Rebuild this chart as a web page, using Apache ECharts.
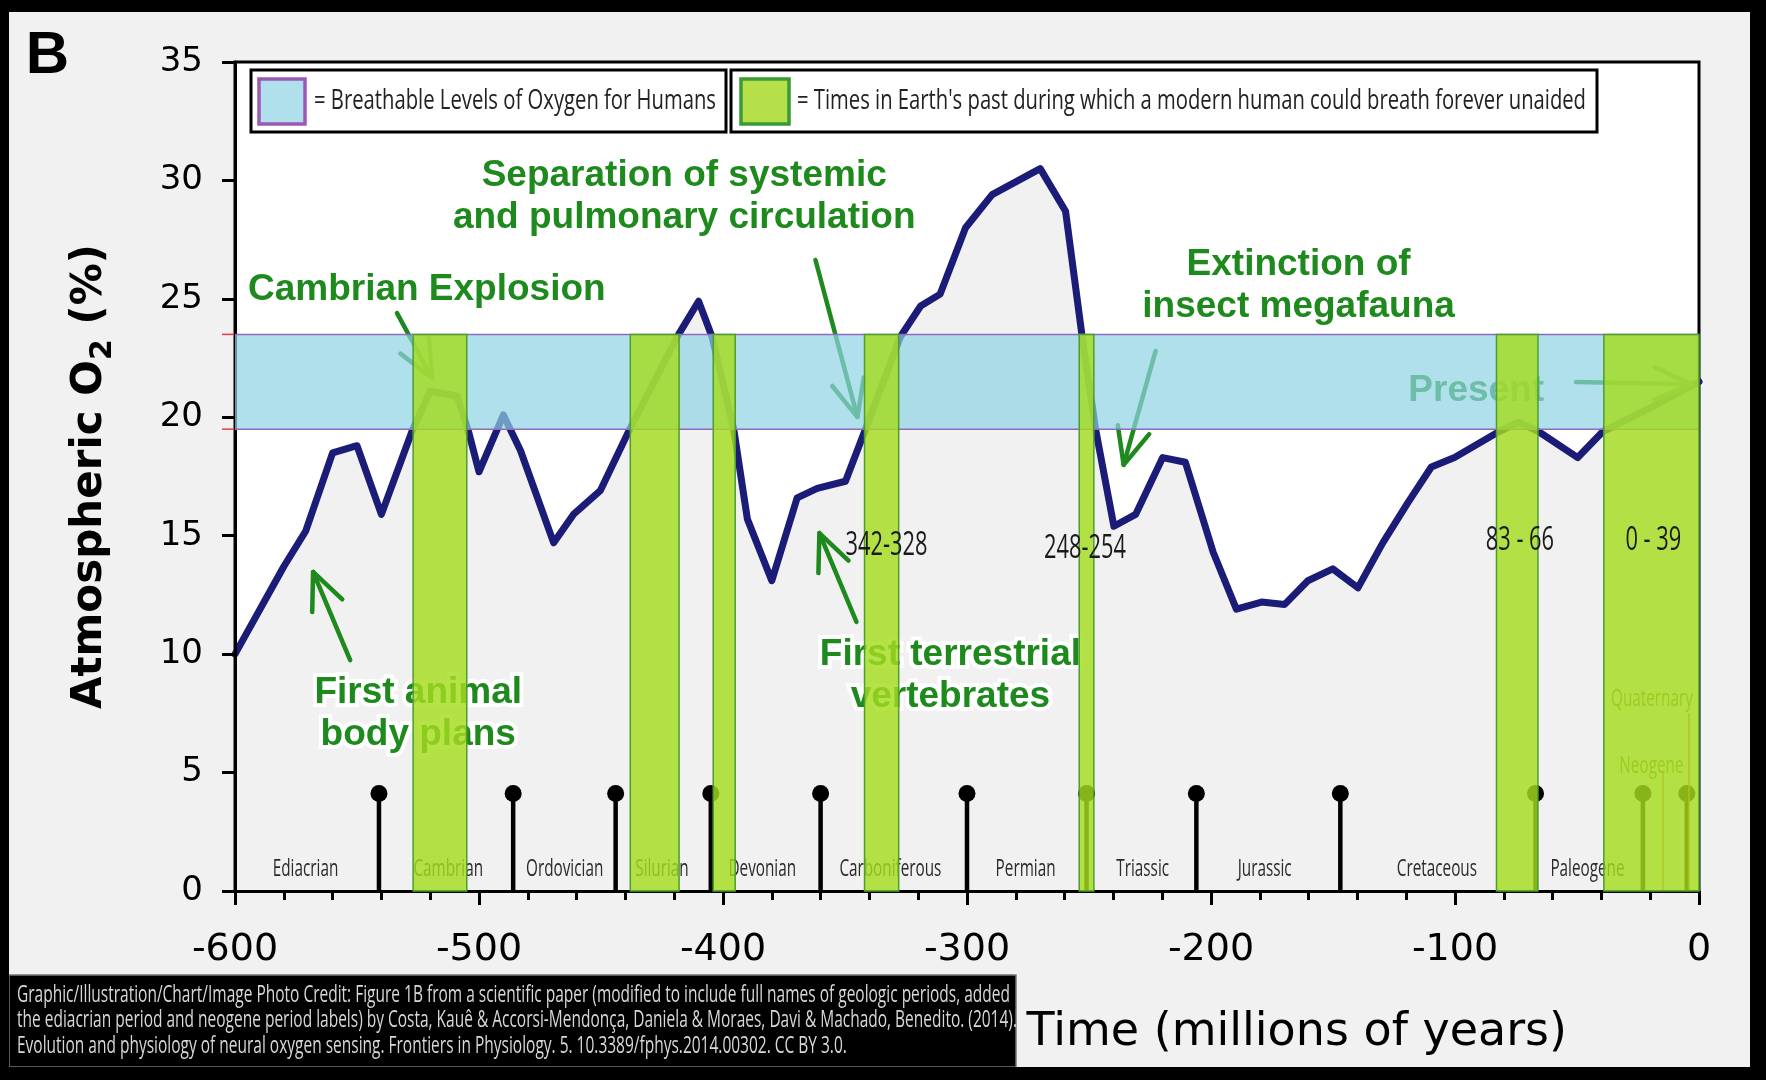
<!DOCTYPE html>
<html>
<head>
<meta charset="utf-8">
<title>Atmospheric O2 through time</title>
<script src="https://cdn.jsdelivr.net/npm/echarts@6.0.0/dist/echarts.min.js"></script>
<style>
html,body{margin:0;padding:0;background:#000;overflow:hidden;}
#chart{width:1766px;height:1080px;}
</style>
</head>
<body>
<div id="chart"></div>
<script>
// ================= DATA =================
const o2Time  = [-600,-580,-571,-560,-550,-540,-527.5,-520,-509,-504.3,-500,-490,-483,-469.4,-461.3,-450.3,-438.7,-418.2,-410,-404.5,-395.6,-390,-380,-369.6,-361.4,-349.8,-341.6,-327.3,-319,-311,-300.6,-289.7,-270,-259.6,-252.8,-247.3,-239.8,-230.9,-219.8,-210.5,-199.1,-189.6,-179.3,-169.8,-160.3,-150.1,-139.8,-129.6,-119.3,-109.7,-100.2,-81.9,-74,-65.8,-49.7,-39.4,-20,0];
const o2Value = [10.0,13.7,15.2,18.5,18.8,15.9,19.4,21.1,20.9,19.4,17.7,20.1,18.6,14.7,15.9,16.9,19.4,23.5,24.9,23.4,19.5,15.7,13.1,16.6,17.0,17.3,19.5,23.4,24.7,25.2,28.0,29.4,30.5,28.7,23.4,19.5,15.4,15.9,18.3,18.1,14.3,11.9,12.2,12.1,13.1,13.6,12.8,14.7,16.4,17.9,18.3,19.4,19.8,19.4,18.3,19.4,20.4,21.5];

const xRange = [-600, 0];
const xStep = 100;
const yRange = [0, 35];
const yStep = 5;

const breathableBand = [19.5, 23.5];
const breathableSpans = [[-527,-505],[-438,-418],[-404,-395],[-342,-328],[-254,-248],[-83,-66],[-39,0]];
const spanLabelText = ['342-328','248-254','83 - 66','0 - 39'];
const spanLabelAt = [[-333,14.55],[-251.6,14.45],[-73.4,14.8],[-18.7,14.8]];

const periodBoundaries = [-541,-486,-444,-405,-360,-300,-251,-206,-147,-67,-23,-5];
const periodNames = ['Ediacrian','Cambrian','Ordovician','Silurian','Devonian','Carboniferous','Permian','Triassic','Jurassic','Cretaceous','Paleogene','Neogene','Quaternary'];
const periodLabelAt = [[-571.1,0.89],[-512.6,0.89],[-464.9,0.89],[-425,0.89],[-383.9,0.89],[-331.4,0.89],[-276,0.89],[-228,0.89],[-178,0.89],[-107.4,0.89],[-45.7,0.89],[-19.5,5.24],[-19.3,8.1]];
const leaderLines = [[-14.75,0,5.1],[-4.1,0,7.5]];

const annotationText = [['Cambrian Explosion'],['Separation of systemic','and pulmonary circulation'],['Extinction of','insect megafauna'],['First animal','body plans'],['First terrestrial','vertebrates'],['Present']];
const annotationAt = [[-594.7,25.37],[-415.9,30.19],[-164.1,26.43],[-524.9,8.35],[-306.8,9.96],[-91.3,21.1]];
const arrowFrom = [[-533.6,24.4],[-362.1,26.64],[-222.7,22.8],[-552.8,9.75],[-345.3,11.36],[-50.4,21.49]];
const arrowTo   = [[-519.2,21.66],[-344.9,20.01],[-235.8,17.99],[-568,13.47],[-360.5,15.11],[-3.3,21.4]];

const legendText = ['= Breathable Levels of Oxygen for Humans', "= Times in Earth's past during which a modern human could breath forever unaided"];
const creditLines = [
  'Graphic/Illustration/Chart/Image Photo Credit: Figure 1B from a scientific paper (modified to include full names of geologic periods, added',
  'the ediacrian period and neogene period labels) by Costa, Kauê & Accorsi-Mendonça, Daniela & Moraes, Davi & Machado, Benedito. (2014).',
  'Evolution and physiology of neural oxygen sensing. Frontiers in Physiology. 5. 10.3389/fphys.2014.00302. CC BY 3.0.'
];

// ================= STYLE CONSTANTS =================
const STEM_TOP = 4.12;
const GREEN_TXT = '#1e8a1e';
const BAND_FILL = 'rgba(142,211,228,0.7)';
const SPAN_FILL = 'rgba(165,220,30,0.82)';

// ================= CHART =================
const chart = echarts.init(document.getElementById('chart'), null, {renderer:'canvas', width:1766, height:1080});

const lineData = o2Time.map((t,i)=>[t,o2Value[i]]);
const bandData = [[xRange[0], xRange[1], breathableBand[0], breathableBand[1]]];
const spanData = breathableSpans.map(s=>[s[0], s[1], yRange[0], breathableBand[1]]);
const stemData = periodBoundaries.map(t=>[t, STEM_TOP]);

chart.setOption({
  animation:false,
  backgroundColor:'#f1f1f1',
  grid:{left:235, right:67, top:62, bottom:189, show:true, backgroundColor:'#ffffff', borderColor:'#000', borderWidth:3, containLabel:false, outerBoundsMode:'none'},
  xAxis:{
    type:'value', min:xRange[0], max:xRange[1], interval:xStep, z:3,
    axisLine:{show:true, onZero:false, lineStyle:{color:'#000', width:3}},
    axisTick:{show:true, length:14, lineStyle:{color:'#000', width:3}},
    minorTick:{show:true, splitNumber:5, length:9, lineStyle:{color:'#000', width:3}},
    splitLine:{show:false}, minorSplitLine:{show:false},
    axisLabel:{fontFamily:'DejaVu Sans', fontSize:38, color:'#000', margin:39, lineHeight:40},
    name:'Time (millions of years)', nameLocation:'end', nameGap:-132, nameMoveOverlap:false,
    nameTextStyle:{fontFamily:'DejaVu Sans', fontSize:46, color:'#000', align:'right', verticalAlign:'top', lineHeight:50, padding:[117,0,0,0]}
  },
  yAxis:{
    type:'value', min:yRange[0], max:yRange[1], interval:yStep, z:3,
    axisLine:{show:true, onZero:false, lineStyle:{color:'#000', width:3}},
    axisTick:{show:true, length:13, lineStyle:{color:'#000', width:3}},
    splitLine:{show:false},
    axisLabel:{fontFamily:'DejaVu Sans', fontSize:34, color:'#000', margin:32},
    name:'Atmospheric O{s|2} (%)', nameLocation:'middle', nameGap:117, nameRotate:90, nameMoveOverlap:false,
    nameTextStyle:{fontFamily:'DejaVu Sans', fontWeight:'bold', fontSize:42, color:'#000', lineHeight:56,
      rich:{s:{fontFamily:'DejaVu Sans', fontWeight:'bold', fontSize:30, color:'#000', lineHeight:30, verticalAlign:'bottom'}}}
  },
  series:[
    {
      type:'line', name:'Atmospheric O2', data:lineData, z:2, symbol:'none', silent:true,
      lineStyle:{color:'#1b1b78', width:7, join:'round', cap:'round'},
      areaStyle:{color:'#f1f1f1', opacity:1, origin:'start'}
    },
    {
      type:'custom', name:'Period boundaries', z:3, silent:true, data:stemData, encode:{x:0, y:1},
      renderItem:function(p, api){
        const b = api.coord([api.value(0), 0]);
        const h = api.coord([api.value(0), api.value(1)]);
        return {type:'group', children:[
          {type:'line', shape:{x1:b[0], y1:b[1], x2:h[0], y2:h[1]}, style:{stroke:'#000', lineWidth:4.5}},
          {type:'circle', shape:{cx:h[0], cy:h[1], r:8.5}, style:{fill:'#000'}}
        ]};
      }
    },
    {
      type:'custom', name:'Breathable levels', z:4, silent:true, data:bandData, encode:{x:[0,1], y:[2,3]},
      renderItem:function(p, api){
        const a = api.coord([api.value(0), api.value(3)]);
        const b = api.coord([api.value(1), api.value(2)]);
        return {type:'group', children:[
          {type:'rect', shape:{x:a[0], y:a[1], width:b[0]-a[0], height:b[1]-a[1]}, style:{fill:BAND_FILL}},
          {type:'line', shape:{x1:a[0], y1:a[1], x2:b[0], y2:a[1]}, style:{stroke:'#8e6bbf', lineWidth:1.5}},
          {type:'line', shape:{x1:a[0], y1:b[1], x2:b[0], y2:b[1]}, style:{stroke:'#8e6bbf', lineWidth:1.5}}
        ]};
      }
    },
    {
      type:'custom', name:'Breathable times', z:5, silent:true, data:spanData, encode:{x:[0,1], y:[2,3]},
      renderItem:function(p, api){
        const a = api.coord([api.value(0), api.value(3)]);
        const b = api.coord([api.value(1), api.value(2)]);
        return {type:'rect', shape:{x:a[0], y:a[1], width:b[0]-a[0], height:b[1]-a[1]},
                style:{fill:SPAN_FILL, stroke:'#4c9e2e', lineWidth:1.5}};
      }
    }
  ]
});

// ================= ANNOTATIONS (graphic) =================
const P = (t, v) => chart.convertToPixel({xAxisIndex:0, yAxisIndex:0}, [t, v]);
const mctx = document.createElement('canvas').getContext('2d');
function measure(text, font){ mctx.font = font; return mctx.measureText(text).width; }
function textEl(text, x, y, font, fill, o){
  o = o || {};
  const align = o.align || 'center', va = o.va || 'middle';
  const style = {text:text, font:font, fill:fill, align:align, verticalAlign:va, textAlign:align, textVerticalAlign:va};
  if (o.stroke){ style.stroke = o.stroke; style.lineWidth = o.lineWidth || 6; style.lineJoin = 'round'; }
  return {type:'text', x:x, y:y, scaleX:o.scaleX || 1, z:(o.z==null?3:o.z), z2:(o.z2==null?1:o.z2), silent:true, style:style};
}
function arrowEls(p0, p1, color, w, z){
  const dx = p1[0]-p0[0], dy = p1[1]-p0[1], L = Math.hypot(dx,dy), ux = dx/L, uy = dy/L;
  const hl = 40, ang = 0.42, c = Math.cos(ang), s = Math.sin(ang);
  const a1 = [p1[0]-hl*(ux*c - uy*s), p1[1]-hl*(uy*c + ux*s)];
  const a2 = [p1[0]-hl*(ux*c + uy*s), p1[1]-hl*(uy*c - ux*s)];
  return [
    {type:'polyline', z:z, silent:true, shape:{points:[p0,p1]}, style:{stroke:color, lineWidth:w, lineCap:'round', fill:null}},
    {type:'polyline', z:z, silent:true, shape:{points:[a1,p1,a2]}, style:{stroke:color, lineWidth:w, lineCap:'round', lineJoin:'round', fill:null}}
  ];
}

const els = [];
// page frame
els.push({type:'rect', z:30, silent:true, shape:{x:0,y:0,width:1766,height:12}, style:{fill:'#000'}});
els.push({type:'rect', z:30, silent:true, shape:{x:0,y:1067,width:1766,height:13}, style:{fill:'#000'}});
els.push({type:'rect', z:30, silent:true, shape:{x:0,y:0,width:9,height:1080}, style:{fill:'#000'}});
els.push({type:'rect', z:30, silent:true, shape:{x:1750,y:0,width:16,height:1080}, style:{fill:'#000'}});

// panel letter
els.push(textEl('B', 47.5, 56, 'bold 60px "Liberation Sans", Arial, sans-serif', '#000', {z:10}));

// red end marks of the band at the y axis
[breathableBand[0], breathableBand[1]].forEach(v=>{
  const p = P(xRange[0], v);
  els.push({type:'line', z:3, silent:true, shape:{x1:p[0]-13, y1:p[1], x2:p[0], y2:p[1]}, style:{stroke:'#e04040', lineWidth:1.5}});
});

// leader lines (Neogene / Quaternary)
leaderLines.forEach(l=>{
  const a = P(l[0], l[1]), b = P(l[0], l[2]);
  els.push({type:'line', z:3, silent:true, shape:{x1:a[0], y1:a[1], x2:b[0], y2:b[1]}, style:{stroke:'#d0602a', lineWidth:1.3}});
});

// period labels (condensed)
const periodFont = '23px "Open Sans", "Liberation Sans", sans-serif';
const periodScale = 102 / measure('Carboniferous', periodFont);
periodNames.forEach((n,i)=>{
  const p = P(periodLabelAt[i][0], periodLabelAt[i][1]);
  const col = i >= 11 ? '#8c7a2a' : '#2a2a2a';
  els.push(textEl(n, p[0], p[1], periodFont, col, {scaleX:periodScale, z:3}));
});

// span range labels (above bars)
const spanFont = '32px "Open Sans", "Liberation Sans", sans-serif';
const spanScale = 82 / measure('342-328', spanFont);
spanLabelText.forEach((t,i)=>{
  const p = P(spanLabelAt[i][0], spanLabelAt[i][1]);
  els.push(textEl(t, p[0], p[1], spanFont, '#1a1a1a', {scaleX:spanScale, z:6}));
});

// green annotations and arrows
const annFont = 'bold 37px "Liberation Sans", Arial, sans-serif';
annotationText.forEach((lines,i)=>{
  const p = P(annotationAt[i][0], annotationAt[i][1]);
  const align = i === 0 ? 'left' : 'center';
  const halo = i !== 5;
  lines.forEach((ln,k)=>{
    const y = p[1] + k*42;
    if (halo) els.push(textEl(ln, p[0], y, annFont, '#fff', {align:align, stroke:'#fff', lineWidth:8, z:3, z2:0}));
    els.push(textEl(ln, p[0], y, annFont, GREEN_TXT, {align:align, z:3, z2:2}));
  });
});
arrowFrom.forEach((f,i)=>{
  arrowEls(P(f[0],f[1]), P(arrowTo[i][0], arrowTo[i][1]), GREEN_TXT, 4.5, 3).forEach(e=>els.push(e));
});

// legend boxes
const legFont = '28px "Open Sans", "Liberation Sans", sans-serif';
els.push({type:'rect', z:10, silent:true, shape:{x:251,y:70,width:475,height:62}, style:{fill:'#fff', stroke:'#000', lineWidth:3}});
els.push({type:'rect', z:10, z2:1, silent:true, shape:{x:259,y:79,width:46,height:45}, style:{fill:'#b0e0ec', stroke:'#9b59b6', lineWidth:3.5}});
els.push(textEl(legendText[0], 314, 101, legFont, '#222', {align:'left', scaleX:402/measure(legendText[0], legFont), z:10, z2:2}));
els.push({type:'rect', z:10, silent:true, shape:{x:731,y:70,width:866,height:62}, style:{fill:'#fff', stroke:'#000', lineWidth:3}});
els.push({type:'rect', z:10, z2:1, silent:true, shape:{x:741,y:79,width:48,height:45}, style:{fill:'#b5e04a', stroke:'#3a9a35', lineWidth:3.5}});
els.push(textEl(legendText[1], 797, 101, legFont, '#222', {align:'left', scaleX:789/measure(legendText[1], legFont), z:10, z2:2}));

// credit box
const credFont = '23px "Open Sans", "Liberation Sans", sans-serif';
const credScale = 993 / measure(creditLines[0], credFont);
els.push({type:'rect', z:20, silent:true, shape:{x:9,y:975,width:1007,height:92}, style:{fill:'#000', stroke:'#777', lineWidth:1.5}});
creditLines.forEach((l,i)=>{
  els.push(textEl(l, 17, 995 + i*25.5, credFont, '#d8d8d8', {align:'left', scaleX:credScale, z:20, z2:2}));
});

chart.setOption({graphic:{elements:els}});
</script>
</body>
</html>
